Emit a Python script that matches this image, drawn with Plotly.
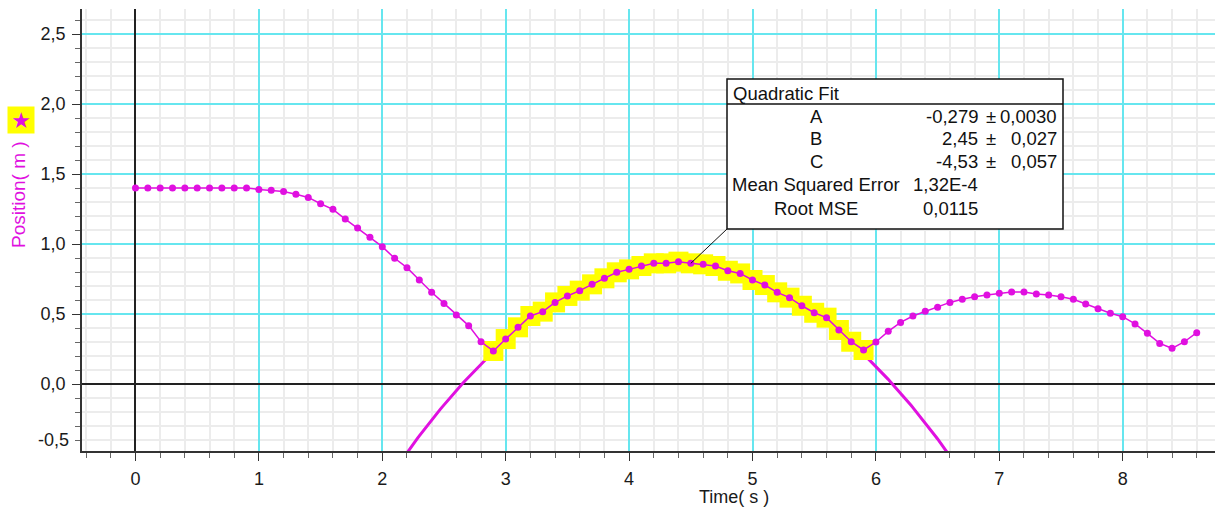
import numpy as np
import plotly.graph_objects as go

# ---------------- data ----------------
time_s = [0.0, 0.1, 0.2, 0.3, 0.4, 0.5, 0.6, 0.7, 0.8, 0.9,
          1.0, 1.1, 1.2, 1.3, 1.4, 1.5, 1.6, 1.7, 1.8, 1.9,
          2.0, 2.1, 2.2, 2.3, 2.4, 2.5, 2.6, 2.7, 2.8, 2.9,
          3.0, 3.1, 3.2, 3.3, 3.4, 3.5, 3.6, 3.7, 3.8, 3.9,
          4.0, 4.1, 4.2, 4.3, 4.4, 4.5, 4.6, 4.7, 4.8, 4.9,
          5.0, 5.1, 5.2, 5.3, 5.4, 5.5, 5.6, 5.7, 5.8, 5.9,
          6.0, 6.1, 6.2, 6.3, 6.4, 6.5, 6.6, 6.7, 6.8, 6.9,
          7.0, 7.1, 7.2, 7.3, 7.4, 7.5, 7.6, 7.7, 7.8, 7.9,
          8.0, 8.1, 8.2, 8.3, 8.4, 8.5, 8.6]
position_m = [1.40, 1.40, 1.40, 1.40, 1.40, 1.40, 1.40, 1.40, 1.40, 1.40,
              1.39, 1.385, 1.375, 1.355, 1.333, 1.288, 1.248, 1.178, 1.114, 1.048,
              0.981, 0.898, 0.831, 0.743, 0.655, 0.576, 0.493, 0.417, 0.302, 0.236,
              0.321, 0.405, 0.486, 0.517, 0.583, 0.629, 0.667, 0.712, 0.755, 0.798,
              0.819, 0.843, 0.862, 0.862, 0.874, 0.862, 0.855, 0.843, 0.809, 0.790,
              0.743, 0.707, 0.655, 0.617, 0.559, 0.509, 0.474, 0.386, 0.302, 0.243,
              0.300, 0.376, 0.440, 0.486, 0.519, 0.548, 0.583, 0.605, 0.624, 0.636,
              0.648, 0.657, 0.657, 0.643, 0.636, 0.624, 0.605, 0.571, 0.538, 0.505,
              0.481, 0.429, 0.362, 0.290, 0.255, 0.302, 0.367]

fit_start, fit_end = 2.9, 5.9
fit_A, fit_B, fit_C = -0.279, 2.45, -4.53
fit_labels = ["A", "B", "C", "Mean Squared Error", "Root MSE"]
fit_values = ["-0,279", "2,45", "-4,53", "1,32E-4", "0,0115"]
fit_errors = ["0,0030", "0,027", "0,057", "", ""]
leader_time = 4.5

x_ticks = [0, 1, 2, 3, 4, 5, 6, 7, 8]
y_ticks = [0.0, 0.5, 1.0, 1.5, 2.0, 2.5]
y_extra_label = "-0,5"

# ---------------- styling ----------------
W, H = 1215, 510
L, R, T, B = 82, 0, 9, 59
XR = [-0.4335, 8.748]
YR = [-0.4786, 2.679]
MAG = "#e010e0"
CYAN = "#66e6ef"
MINOR = "#ececec"
AX = "#333333"
FONT = "Arial, Liberation Sans, sans-serif"

def px2x(p):
    return XR[0] + (p - L) / (W - L - R) * (XR[1] - XR[0])

def py2y(p):
    return YR[1] - (p - T) / (H - T - B) * (YR[1] - YR[0])

sel_t = [t for t in time_s if fit_start - 1e-9 <= t <= fit_end + 1e-9]
sel_p = [p for t, p in zip(time_s, position_m) if fit_start - 1e-9 <= t <= fit_end + 1e-9]

fit_t = np.linspace(2.1, 6.7, 300)
fit_p = fit_A * fit_t ** 2 + fit_B * fit_t + fit_C

fig = go.Figure()
fig.add_trace(go.Scatter(x=fit_t, y=fit_p, mode="lines",
                         line=dict(color=MAG, width=3), hoverinfo="skip"))
fig.add_trace(go.Scatter(x=sel_t, y=sel_p, mode="markers",
                         marker=dict(symbol="square", size=20, color="#ffff00",
                                     line=dict(width=0))))
fig.add_trace(go.Scatter(x=time_s, y=position_m, mode="lines+markers",
                         line=dict(color=MAG, width=1.5),
                         marker=dict(color=MAG, size=7)))

axis_common = dict(showline=True, linecolor=AX, linewidth=1.5,
                   ticks="outside", ticklen=8, tickcolor=AX, tickwidth=1,
                   showgrid=True, gridcolor=CYAN, gridwidth=1.5,
                   zeroline=True, zerolinecolor="#222222", zerolinewidth=1.5,
                   automargin=False,
                   tickfont=dict(family=FONT, size=18, color="#1a1a1a"))

fig.update_xaxes(range=XR, tickvals=x_ticks, tickformat="d",
                 minor=dict(dtick=0.2, tick0=0, ticks="outside", ticklen=5,
                            tickcolor="#666666", showgrid=True,
                            gridcolor=MINOR, gridwidth=1.5),
                 ticklabelstandoff=3, **axis_common)
fig.update_yaxes(range=YR, tickvals=y_ticks, tickformat=".1f",
                 minor=dict(dtick=0.1, tick0=0, ticks="outside", ticklen=5,
                            tickcolor="#666666", showgrid=True,
                            gridcolor=MINOR, gridwidth=1.5),
                 ticklabelstandoff=3, **axis_common)

annotations = []
# axis titles
annotations.append(dict(text="Time( s )", xref="paper", yref="paper",
                        x=(734 - L) / (W - L - R), y=-(497 - (H - B)) / (H - T - B),
                        xanchor="center", yanchor="middle", showarrow=False,
                        font=dict(family=FONT, size=18, color="#1a1a1a")))
annotations.append(dict(text="Position( m )", xref="paper", yref="paper",
                        x=-(L - 19) / (W - L - R), y=(H - B - 195) / (H - T - B),
                        xanchor="center", yanchor="middle", textangle=-90,
                        showarrow=False,
                        font=dict(family=FONT, size=19, color=MAG)))
annotations.append(dict(text="★", xref="paper", yref="paper",
                        x=-(L - 21) / (W - L - R), y=(H - B - 120) / (H - T - B),
                        xanchor="center", yanchor="middle", showarrow=False,
                        width=24, height=24, bgcolor="#ffff00",
                        font=dict(family="DejaVu Sans", size=22, color=MAG)))
annotations.append(dict(text=y_extra_label, xref="paper", yref="y",
                        x=-(8 + 3) / (W - L - R), y=-0.4,
                        xanchor="right", yanchor="middle", showarrow=False,
                        font=dict(family=FONT, size=18, color="#1a1a1a")))

# fit box text
tf = dict(family=FONT, size=18.5, color="#111111")
annotations.append(dict(text="Quadratic Fit", x=px2x(731), y=py2y(93),
                        xanchor="left", yanchor="middle", showarrow=False, font=tf))
row_y = [116, 138, 161, 184, 208]
for lab, val, err, ry in zip(fit_labels, fit_values, fit_errors, row_y):
    annotations.append(dict(text=lab, x=px2x(816), y=py2y(ry), xanchor="center",
                            yanchor="middle", showarrow=False, font=tf))
    annotations.append(dict(text=val, x=px2x(980), y=py2y(ry), xanchor="right",
                            yanchor="middle", showarrow=False, font=tf))
    if err:
        annotations.append(dict(text="±", x=px2x(991), y=py2y(ry), xanchor="center",
                                yanchor="middle", showarrow=False, font=tf))
        annotations.append(dict(text=err, x=px2x(1059), y=py2y(ry), xanchor="right",
                                yanchor="middle", showarrow=False, font=tf))

leader_p = [p for t, p in zip(time_s, position_m) if abs(t - leader_time) < 1e-9][0]
shapes = [
    dict(type="rect", x0=px2x(727), x1=px2x(1063), y0=py2y(229), y1=py2y(79),
         line=dict(color="#111111", width=1.5), fillcolor="white", layer="above"),
    dict(type="line", x0=px2x(727), x1=px2x(1063), y0=py2y(104), y1=py2y(104),
         line=dict(color="#111111", width=1.5), layer="above"),
    dict(type="line", x0=leader_time, y0=leader_p, x1=px2x(727), y1=py2y(229),
         line=dict(color="#111111", width=1), layer="above"),
]

fig.update_layout(width=W, height=H, margin=dict(l=L, r=R, t=T, b=B),
                  paper_bgcolor="white", plot_bgcolor="white",
                  showlegend=False, separators=",.",
                  annotations=annotations, shapes=shapes)
fig.write_html("out.html", config={"displayModeBar": False},
               post_script="document.body.style.margin='0';"
                           "document.body.style.overflow='hidden';")
